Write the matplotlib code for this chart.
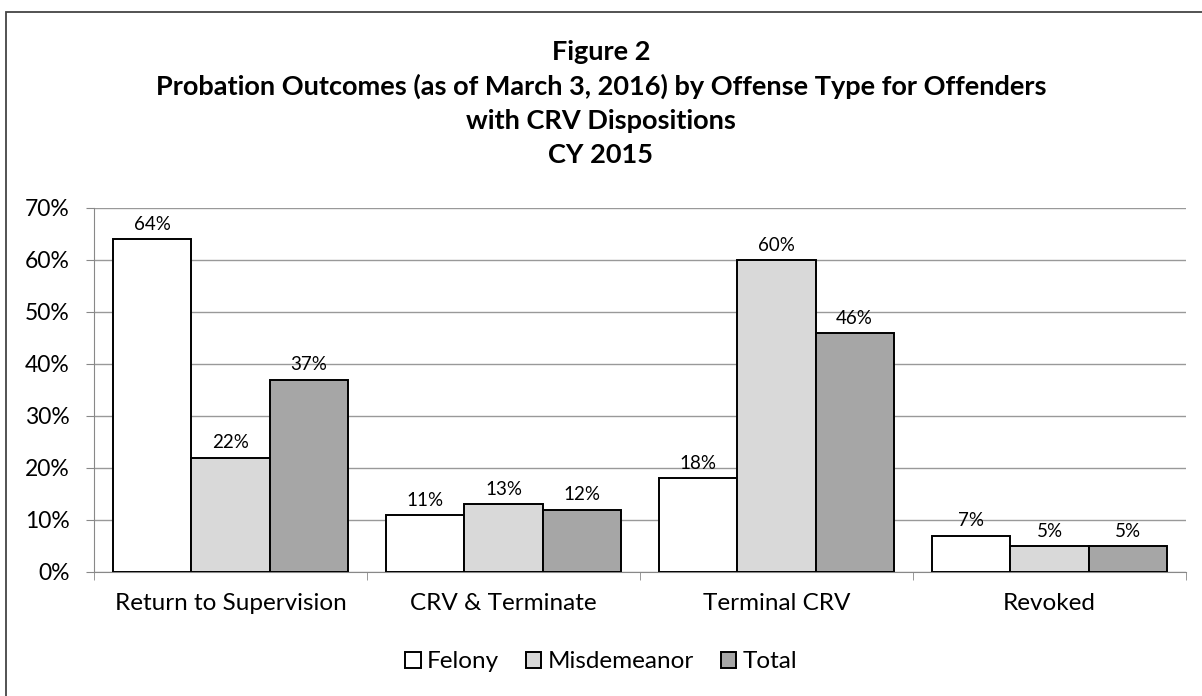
import numpy as np
import matplotlib
matplotlib.use("Agg")
import matplotlib.pyplot as plt
from matplotlib.patches import Rectangle

plt.rcParams["font.family"] = ["Lato", "DejaVu Sans"]

categories = ["Return to Supervision", "CRV & Terminate", "Terminal CRV", "Revoked"]
felony = [64, 11, 18, 7]
misdemeanor = [22, 13, 60, 5]
total = [37, 12, 46, 5]
series_names = ["Felony", "Misdemeanor", "Total"]
series_colors = ["#ffffff", "#d9d9d9", "#a6a6a6"]
title_lines = ["Figure 2",
               "Probation Outcomes (as of March 3, 2016) by Offense Type for Offenders",
               "with CRV Dispositions",
               "CY 2015"]

W, H = 1202, 696
fig = plt.figure(figsize=(W / 100, H / 100), dpi=100)
ax = fig.add_axes([94 / W, 1 - 572 / H, (1186 - 94) / W, (572 - 208) / H])

# chart frame (runs off the right and bottom edges)
fig.patches.append(Rectangle((6 / W, -0.05), 1.2, 1 - 12 / H + 0.05,
                             transform=fig.transFigure, fill=False,
                             edgecolor="#444444", lw=1.3))

x = np.arange(len(categories))
w = 0.286
for i, (vals, name, col) in enumerate(zip([felony, misdemeanor, total],
                                          series_names, series_colors)):
    bars = ax.bar(x + (i - 1) * w, vals, w, color=col, edgecolor="black",
                  lw=1.4, label=name, zorder=3)
    for b, v in zip(bars, vals):
        ax.text(b.get_x() + b.get_width() / 2, v + 1.2, f"{v}%",
                ha="center", va="bottom", fontsize=13.5)

ax.set_xlim(-0.5, 3.5)
ax.set_ylim(0, 70)
ax.set_yticks(range(0, 71, 10))
ax.set_yticklabels([f"{t}%" for t in range(0, 71, 10)], fontsize=16.5)
ax.set_xticks(x)
ax.set_xticklabels(categories, fontsize=17.5)
ax.set_xticks(np.arange(-0.5, 4.0, 1.0), minor=True)
ax.tick_params(axis="x", which="major", length=0, pad=15)
ax.tick_params(axis="x", which="minor", length=5.5, color="#888888", direction="out")
ax.tick_params(axis="y", length=5.5, color="#888888", pad=12)
ax.grid(axis="y", color="#999999", lw=1.0, zorder=0)
for s in ["top", "right"]:
    ax.spines[s].set_visible(False)
ax.spines["left"].set_color("#888888")
ax.spines["bottom"].set_color("#888888")

# title lines at fixed baselines
for k, line in enumerate(title_lines):
    fig.text(0.5, 1 - (60 + 34.3 * k) / H, line, ha="center", va="baseline",
             fontsize=19.5, fontweight="bold")

fig.legend(loc="center", bbox_to_anchor=(0.5, 1 - 662 / H), ncol=3, frameon=False,
           fontsize=17.5, handlelength=0.65, handleheight=0.65, handletextpad=0.25,
           columnspacing=1.1)

fig.savefig("out.png", dpi=100)
